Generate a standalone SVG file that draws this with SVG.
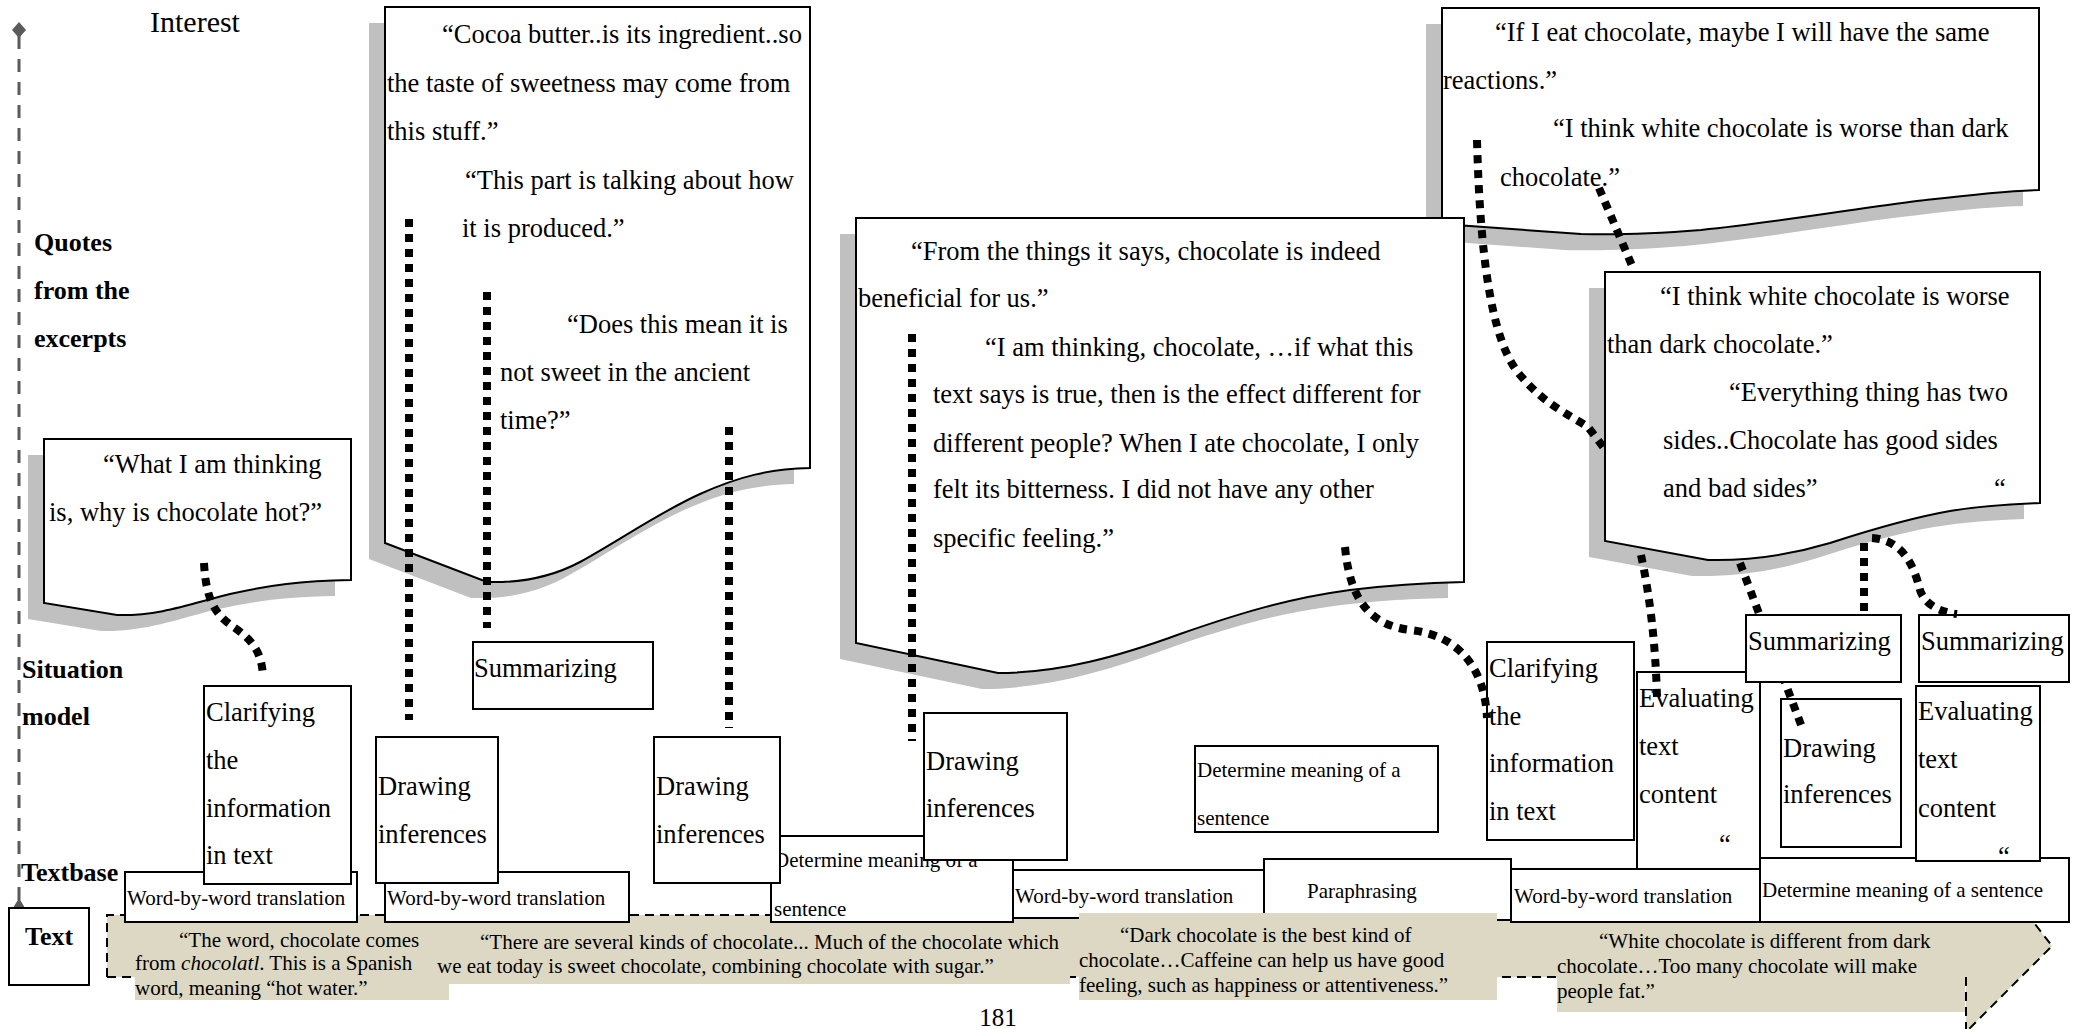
<svg xmlns="http://www.w3.org/2000/svg" width="2075" height="1029" viewBox="0 0 2075 1029">
<defs>
<style>
text { font-family: "Liberation Serif", "Times New Roman", serif; fill: #000; }
.q { font-size: 26.5px; }
.s { font-size: 21px; }
.lbl { font-size: 26px; font-weight: bold; }
.paper { fill: #fff; stroke: #000; stroke-width: 2; }
.shadow { fill: #c0c0c0; }
.box { fill: #fff; stroke: #000; stroke-width: 2; }
.conn { fill: none; stroke: #000; stroke-width: 8; stroke-dasharray: 8 7; }
.bg { fill: #dcd8c3; }
.dash { fill: none; stroke: #000; stroke-width: 2; stroke-dasharray: 9 6; }
.axis { fill: none; stroke: #5a5a5a; stroke-width: 3; stroke-dasharray: 13 10; }
</style>
<path id="p1" d="M44,439 H351 V580 C300,581 270,585 230,594 C190,604 160,616 117,615 L44,603 Z"/>
<path id="p2" d="M385,7 H810 V468 C770,469 740,476 700,494 C660,512 620,540 580,562 C550,578 520,583 487,582 L385,543 Z"/>
<path id="p3" d="M856,218 H1464 V582 C1420,583 1390,585 1350,590 C1290,598 1240,613 1180,634 C1120,656 1060,673 998,673 L856,643 Z"/>
<path id="p4" d="M1442,8 H2039 V190 C2000,191 1960,196 1917,201 C1860,208 1780,222 1701,230 C1650,234 1610,235 1581,234 L1442,224 Z"/>
<path id="p5" d="M1605,272 H2040 V503 C2010,504 1980,506 1950,511 C1910,518 1870,530 1830,543 C1790,555 1750,561 1708,560 L1605,541 Z"/>
</defs>

<g id="axis">
<line x1="19" y1="36" x2="19" y2="900" class="axis"/>
<path d="M19,22 L26,30 L19,38 L12,30 Z" fill="#5a5a5a"/>
<path d="M19,898 L25,908 L13,908 Z" fill="#5a5a5a"/>
</g>

<g id="labels">
<text x="150" y="32" style="font-size:30px">Interest</text>
<text class="lbl" x="34" y="251">Quotes</text>
<text class="lbl" x="34" y="299">from the</text>
<text class="lbl" x="34" y="347">excerpts</text>
<text class="lbl" x="22" y="678">Situation</text>
<text class="lbl" x="22" y="725">model</text>
<text class="lbl" x="21" y="881">Textbase</text>
</g>

<g id="text-box">
<rect class="box" x="9" y="908" width="80" height="77"/>
<text class="lbl" x="49" y="945" text-anchor="middle">Text</text>
</g>

<g id="quote1">
<use href="#p1" class="shadow" transform="translate(-16,16)"/>
<use href="#p1" class="paper"/>
<text class="q" x="103" y="473">“What I am thinking</text>
<text class="q" x="49" y="521">is, why is chocolate hot?”</text>
</g>

<g id="quote2">
<use href="#p2" class="shadow" transform="translate(-16,16)"/>
<use href="#p2" class="paper"/>
<text class="q" x="442" y="43">“Cocoa butter..is its ingredient..so</text>
<text class="q" x="387" y="92">the taste of sweetness may come from</text>
<text class="q" x="387" y="140">this stuff.”</text>
<text class="q" x="465" y="189">“This part is talking about how</text>
<text class="q" x="462" y="237">it is produced.”</text>
<text class="q" x="567" y="333">“Does this mean it is</text>
<text class="q" x="500" y="381">not sweet in the ancient</text>
<text class="q" x="500" y="429">time?”</text>
</g>

<g id="quote4">
<use href="#p4" class="shadow" transform="translate(-16,16)"/>
<use href="#p4" class="paper"/>
<text class="q" x="1495" y="41">“If I eat chocolate, maybe I will have the same</text>
<text class="q" x="1443" y="89">reactions.”</text>
<text class="q" x="1553" y="137">“I think white chocolate is worse than dark</text>
<text class="q" x="1500" y="186">chocolate.”</text>
</g>

<g id="quote3">
<use href="#p3" class="shadow" transform="translate(-16,16)"/>
<use href="#p3" class="paper"/>
<text class="q" x="911" y="260">“From the things it says, chocolate is indeed</text>
<text class="q" x="858" y="307">beneficial for us.”</text>
<text class="q" x="985" y="356">“I am thinking, chocolate, …if what this</text>
<text class="q" x="933" y="403">text says is true, then is the effect different for</text>
<text class="q" x="933" y="452">different people? When I ate chocolate, I only</text>
<text class="q" x="933" y="498">felt its bitterness. I did not have any other</text>
<text class="q" x="933" y="547">specific feeling.”</text>
</g>

<g id="quote5">
<use href="#p5" class="shadow" transform="translate(-16,16)"/>
<use href="#p5" class="paper"/>
<text class="q" x="1660" y="305">“I think white chocolate is worse</text>
<text class="q" x="1607" y="353">than dark chocolate.”</text>
<text class="q" x="1729" y="401">“Everything thing has two</text>
<text class="q" x="1663" y="449">sides..Chocolate has good sides</text>
<text class="q" x="1663" y="497">and bad sides”</text>
<text class="q" x="1994" y="497">“</text>
</g>

<g id="text-band">
<path class="bg" d="M107,915 H2028 L2052,946 L1966,1032 V977 H107 Z"/>
<path class="dash" d="M107,977 V915 H2028 L2052,946 L1966,1032 M1966,977 V1029 M107,977 H1966"/>
</g>

<g id="word1"><rect class="box" x="125" y="872" width="232" height="50"/><text class="s" x="127" y="905">Word-by-word translation</text></g>
<g id="word2"><rect class="box" x="385" y="872" width="244" height="50"/><text class="s" x="387" y="905">Word-by-word translation</text></g>
<g id="determine-mid"><rect class="box" x="771" y="836" width="242" height="86"/><text class="s" x="774" y="867">Determine meaning of a</text><text class="s" x="774" y="916">sentence</text></g>
<g id="word3"><rect class="box" x="1013" y="870" width="251" height="48"/><text class="s" x="1015" y="903">Word-by-word translation</text></g>
<g id="paraphrasing"><rect class="box" x="1264" y="859" width="247" height="61"/><text class="s" x="1307" y="898">Paraphrasing</text></g>
<g id="word4"><rect class="box" x="1511" y="869" width="249" height="53"/><text class="s" x="1514" y="903">Word-by-word translation</text></g>
<g id="determine-right"><rect class="box" x="1760" y="858" width="309" height="64"/><text class="s" x="1762" y="897">Determine meaning of a sentence</text></g>

<g id="excerpt1">
<rect class="bg" x="135" y="923" width="314" height="77"/>
<text class="s" x="179" y="947">“The word, chocolate comes</text>
<text class="s" x="135" y="970">from <tspan font-style="italic">chocolatl</tspan>. This is a Spanish</text>
<text class="s" x="135" y="995">word, meaning “hot water.”</text>
</g>
<g id="excerpt2">
<rect class="bg" x="437" y="923" width="633" height="61"/>
<text class="s" x="480" y="949">“There are several kinds of chocolate... Much of the chocolate which</text>
<text class="s" x="437" y="973">we eat today is sweet chocolate, combining chocolate with sugar.”</text>
</g>
<g id="excerpt3">
<rect class="bg" x="1079" y="913" width="418" height="87"/>
<text class="s" x="1120" y="942">“Dark chocolate is the best kind of</text>
<text class="s" x="1079" y="967">chocolate…Caffeine can help us have good</text>
<text class="s" x="1079" y="992">feeling, such as happiness or attentiveness.”</text>
</g>
<g id="excerpt4">
<rect class="bg" x="1557" y="923" width="408" height="89"/>
<text class="s" x="1599" y="948">“White chocolate is different from dark</text>
<text class="s" x="1557" y="973">chocolate…Too many chocolate will make</text>
<text class="s" x="1557" y="998">people fat.”</text>
</g>

<g id="clarifying1"><rect class="box" x="204" y="686" width="147" height="198"/>
<text class="q" x="206" y="721">Clarifying</text><text class="q" x="206" y="769">the</text><text class="q" x="206" y="817">information</text><text class="q" x="206" y="864">in text</text></g>
<g id="drawing1"><rect class="box" x="376" y="737" width="122" height="146"/>
<text class="q" x="378" y="795">Drawing</text><text class="q" x="378" y="843">inferences</text></g>
<g id="summarizing-mid"><rect class="box" x="473" y="642" width="180" height="67"/>
<text class="q" x="474" y="677">Summarizing</text></g>
<g id="drawing2"><rect class="box" x="654" y="737" width="126" height="146"/>
<text class="q" x="656" y="795">Drawing</text><text class="q" x="656" y="843">inferences</text></g>
<g id="drawing3"><rect class="box" x="924" y="713" width="143" height="147"/>
<text class="q" x="926" y="770">Drawing</text><text class="q" x="926" y="817">inferences</text></g>
<g id="determine-upper"><rect class="box" x="1195" y="746" width="243" height="86"/>
<text class="s" x="1197" y="777">Determine meaning of a</text><text class="s" x="1197" y="825">sentence</text></g>
<g id="clarifying2"><rect class="box" x="1487" y="642" width="147" height="198"/>
<text class="q" x="1489" y="677">Clarifying</text><text class="q" x="1489" y="725">the</text><text class="q" x="1489" y="772">information</text><text class="q" x="1489" y="820">in text</text></g>
<g id="evaluating1"><rect class="box" x="1637" y="672" width="123" height="197"/>
<text class="q" x="1639" y="707">Evaluating</text><text class="q" x="1639" y="755">text</text><text class="q" x="1639" y="803">content</text><text class="q" x="1719" y="853">“</text></g>
<g id="drawing4"><rect class="box" x="1781" y="699" width="120" height="148"/>
<text class="q" x="1783" y="757">Drawing</text><text class="q" x="1783" y="803">inferences</text></g>
<g id="evaluating2"><rect class="box" x="1916" y="686" width="124" height="175"/>
<text class="q" x="1918" y="720">Evaluating</text><text class="q" x="1918" y="768">text</text><text class="q" x="1918" y="817">content</text><text class="q" x="1998" y="865">“</text></g>
<g id="summarizing2"><rect class="box" x="1919" y="615" width="150" height="67"/>
<text class="q" x="1921" y="650">Summarizing</text></g>

<g id="connectors">
<path class="conn" d="M204,563 C206,600 215,615 235,628 C255,642 262,655 263,677"/>
<path class="conn" d="M409,219 L409,720"/>
<path class="conn" d="M487,292 L487,628"/>
<path class="conn" d="M729,427 L729,728"/>
<path class="conn" d="M912,334 L912,741"/>
<path class="conn" d="M1345,547 C1350,600 1370,625 1410,630 C1460,635 1485,670 1487,718"/>
<path class="conn" d="M1477,140 C1480,250 1490,340 1520,375 C1545,405 1570,415 1588,427 L1604,448"/>
<path class="conn" d="M1599,188 L1633,268"/>
<path class="conn" d="M1641,555 Q1655,620 1657,698"/>
<path class="conn" d="M1740,563 L1803,730"/>
<path class="conn" d="M1864,543 L1864,613"/>
<path class="conn" d="M1872,538 C1905,540 1915,570 1920,590 C1925,605 1940,612 1957,614"/>
</g>

<g id="summarizing1"><rect class="box" x="1746" y="615" width="155" height="67"/>
<text class="q" x="1748" y="650">Summarizing</text></g>

<g id="page-number"><text x="998" y="1026" text-anchor="middle" style="font-size:25px">181</text></g>
</svg>
